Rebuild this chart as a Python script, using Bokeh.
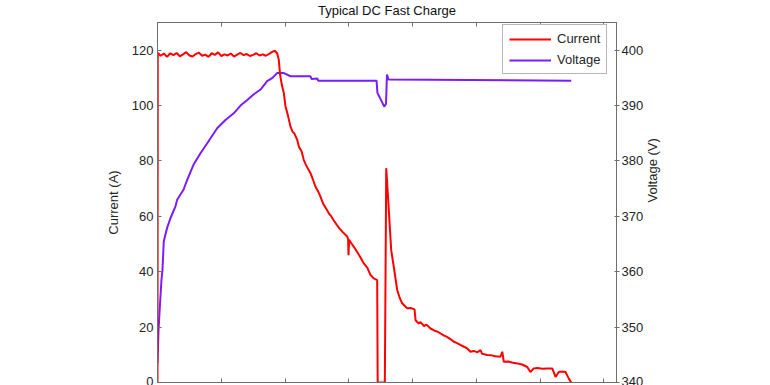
import math
from bokeh.plotting import figure
from bokeh.models import Range1d, LinearAxis, FixedTicker, Legend, LegendItem
from bokeh.embed import file_html
from bokeh.resources import INLINE

# ---------------- data (time in minutes) ----------------
cur_t = [0.00, 0.02, 0.25, 0.50, 0.75, 1.00, 1.25, 1.50, 1.75, 2.00,
         2.25, 2.50, 2.75, 3.00, 3.25, 3.50, 3.75, 4.00, 4.25, 4.50,
         4.75, 5.00, 5.25, 5.50, 5.75, 6.00, 6.25, 6.50, 6.75, 7.00,
         7.25, 7.50, 7.75, 8.00, 8.25, 8.50, 8.75, 9.00, 9.20, 9.39,
         9.51, 9.62, 9.75, 9.91, 10.04, 10.20, 10.43, 10.60, 10.75, 10.96,
         11.10, 11.30, 11.47, 11.65, 12.00, 12.20, 12.39, 12.60, 12.78, 13.00,
         13.20, 13.44, 13.60, 13.80, 14.05, 14.30, 14.55, 14.88, 14.95, 14.98,
         15.03, 15.20, 15.40, 15.65, 15.90, 16.18, 16.45, 16.71, 16.96, 17.23,
         17.27, 17.83, 17.94, 18.06, 18.22, 18.33, 18.53, 18.80, 19.00, 19.19,
         19.40, 19.58, 19.85, 20.16, 20.24, 20.49, 20.63, 20.90, 21.10, 21.41,
         21.70, 22.00, 22.20, 22.45, 22.70, 23.00, 23.24, 23.50, 23.75, 24.00,
         24.29, 24.55, 24.80, 25.10, 25.33, 25.45, 25.86, 26.20, 26.50, 26.90,
         27.04, 27.16, 27.50, 27.80, 28.21, 28.60, 29.00, 29.25, 29.51, 29.80,
         30.20, 30.60, 30.96, 31.22, 31.47, 31.75, 32.00, 32.26, 32.45]
cur_a = [0.0, 119.0, 118.0, 118.8, 117.6, 118.9, 118.2, 119.0, 117.8, 118.5,
         119.3, 118.1, 117.7, 118.6, 119.1, 118.0, 118.4, 117.6, 118.9, 118.3,
         119.2, 117.9, 118.5, 118.1, 118.8, 117.7, 118.4, 119.0, 118.2, 118.6,
         117.9, 118.3, 118.9, 118.1, 118.5, 118.0, 118.7, 119.4, 119.8, 118.8,
         116.6, 111.0, 107.5, 104.5, 99.7, 97.0, 92.4, 90.5, 89.8, 87.6,
         85.0, 83.5, 80.4, 78.5, 75.6, 73.2, 70.7, 69.0, 67.1, 64.5,
         63.0, 61.1, 60.2, 58.7, 57.0, 55.5, 54.2, 52.7, 51.8, 46.0,
         51.5, 50.3, 49.0, 47.2, 45.3, 43.0, 41.5, 38.8, 37.6, 37.0,
         0.0, 0.0, 77.4, 68.4, 56.3, 47.8, 41.8, 33.4, 30.5, 28.6,
         27.6, 26.8, 26.9, 26.4, 22.5, 21.3, 21.8, 20.4, 20.9, 19.5,
         18.8, 18.3, 17.7, 17.0, 16.5, 15.6, 14.7, 14.2, 13.6, 13.0,
         12.3, 11.1, 11.4, 10.9, 11.7, 10.4, 9.9, 9.8, 9.5, 9.3,
         11.1, 7.5, 7.6, 7.2, 6.9, 6.5, 5.6, 3.8, 5.1, 5.2,
         5.0, 5.1, 5.1, 2.0, 3.8, 4.0, 3.8, 1.4, 0.0]

volt_t = [0.00, 0.08, 0.20, 0.31, 0.39, 0.49, 0.63, 0.78, 1.02, 1.41,
          1.54, 2.04, 2.33, 2.82, 3.37, 3.90, 4.68, 5.33, 5.98, 6.51,
          7.04, 7.53, 8.08, 8.60, 9.02, 9.39, 9.88, 10.43, 12.00, 12.08,
          12.53, 12.60, 17.18, 17.25, 17.49, 17.78, 17.92, 18.00, 18.12, 32.45]
volt_v = [343.5, 349.5, 354.3, 358.5, 360.3, 365.4, 366.8, 368.1, 369.7, 371.8,
          373.0, 374.8, 376.6, 379.3, 381.4, 383.2, 385.9, 387.4, 388.6, 390.0,
          391.0, 392.0, 392.9, 394.4, 395.0, 395.9, 395.9, 395.3, 395.3, 394.8,
          394.9, 394.5, 394.5, 392.3, 391.2, 389.8, 390.3, 395.6, 394.7, 394.5]

x_ticks = [0, 5, 10, 15, 20, 25, 30, 35]
cur_ticks = [0, 20, 40, 60, 80, 100, 120]
volt_ticks = [340, 350, 360, 370, 380, 390, 400]

TXT = "#262626"
AX = "#6e6e6e"
FONT = "Liberation Sans"

p = figure(width=770, height=390, output_backend="svg", toolbar_location=None,
           x_range=Range1d(0, 36), y_range=Range1d(0, 130),
           x_axis_location=None, y_axis_location=None,
           min_border_left=157, min_border_right=154,
           min_border_top=27, min_border_bottom=3)
p.margin = (-5, 0, 0, 0)
p.extra_y_ranges = {"volt": Range1d(340, 405)}
p.grid.visible = False
p.outline_line_color = AX
p.outline_line_width = 1
p.background_fill_color = "white"
p.border_fill_color = "white"

p.title.text = "Typical DC Fast Charge"
p.title.align = "center"
p.title.text_font = FONT
p.title.text_font_size = "13px"
p.title.text_font_style = "normal"
p.title.text_color = "#111111"
p.title.standoff = 9

def style(ax, tin, tout, labels=True):
    ax.axis_line_color = AX
    ax.major_tick_line_color = AX
    ax.minor_tick_line_color = None
    ax.major_tick_in = tin
    ax.major_tick_out = tout
    ax.major_label_text_font = FONT
    ax.major_label_text_font_size = "13px" if labels else "0px"
    ax.major_label_text_color = TXT
    ax.axis_label_text_font = FONT
    ax.axis_label_text_font_size = "13px"
    ax.axis_label_text_font_style = "normal"
    ax.axis_label_text_color = TXT

left = LinearAxis(ticker=FixedTicker(ticks=cur_ticks), axis_label="Current (A)")
style(left, 4, 0)
left.major_label_standoff = 4
left.axis_label_standoff = 8
p.add_layout(left, "left")

right = LinearAxis(y_range_name="volt", ticker=FixedTicker(ticks=volt_ticks),
                   axis_label="Voltage (V)")
style(right, 2, 3)
right.major_label_standoff = 2
right.axis_label_standoff = 6
right.axis_label_text_align = "center"
try:
    right.axis_label_orientation = math.pi / 2
except Exception:
    pass
p.add_layout(right, "right")

top = LinearAxis(ticker=FixedTicker(ticks=x_ticks))
style(top, 4, 0, labels=False)
top.major_label_standoff = 0
top.major_label_overrides = {t: "" for t in x_ticks}
p.add_layout(top, "above")

bottom = LinearAxis(ticker=FixedTicker(ticks=x_ticks))
style(bottom, 4, 0, labels=False)
bottom.major_label_standoff = 0
bottom.major_label_overrides = {t: "" for t in x_ticks}
p.add_layout(bottom, "below")

r_volt = p.line(volt_t, volt_v, line_color="#7a1cff", line_width=2, y_range_name="volt")
r_cur = p.line(cur_t, cur_a, line_color="#ff0000", line_width=2)

legend = Legend(items=[LegendItem(label="Current", renderers=[r_cur]),
                       LegendItem(label="Voltage", renderers=[r_volt])],
                location=(345, 308), orientation="vertical",
                glyph_width=42, glyph_height=14, label_height=14,
                label_standoff=6, spacing=6, padding=6, margin=0,
                label_text_font=FONT, label_text_font_size="13px",
                label_text_color=TXT, border_line_color=AX,
                border_line_width=1, background_fill_color="white",
                background_fill_alpha=1)
p.add_layout(legend, "center")

open("out.html", "w").write(file_html(p, INLINE))
